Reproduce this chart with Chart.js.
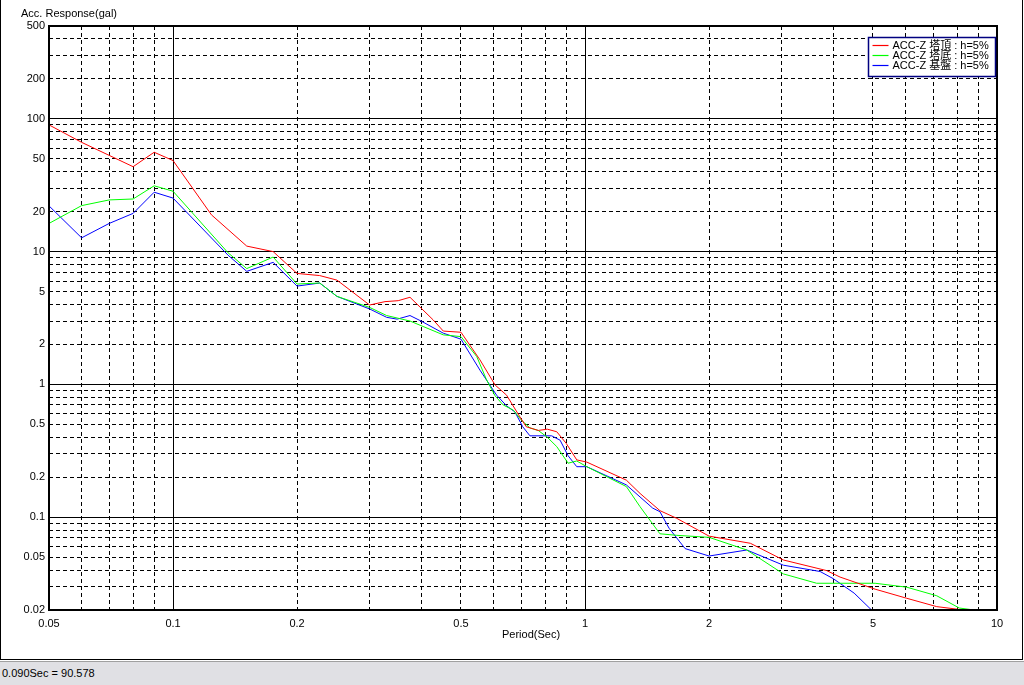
<!DOCTYPE html>
<html>
<head>
<meta charset="utf-8">
<script src="https://cdn.jsdelivr.net/npm/chart.js@4.4.0/dist/chart.umd.min.js"></script>
<style>
html,body{margin:0;padding:0;background:#fff;width:1024px;height:685px;overflow:hidden;}
#chart{position:absolute;left:0;top:0;}
#frame{position:absolute;left:0;top:0;width:1021px;height:659px;border-left:1px solid #000;border-right:1px solid #000;border-bottom:1px solid #000;pointer-events:none;}
#status{position:absolute;left:0;top:661px;width:1024px;height:24px;background:#e0e0e4;border-top:1px solid #a0a0a0;box-sizing:border-box;font:11px "Liberation Sans",Arial,sans-serif;color:#000;padding-left:2px;line-height:23px;}
</style>
</head>
<body>
<canvas id="chart" width="1024" height="660"></canvas>
<div id="frame"></div>
<div id="status">0.090Sec = 90.578</div>
<script>
// ---- data (period in sec, response in gal) ----
const seriesNames = ['ACC-Z 塔頂 : h=5%', 'ACC-Z 塔底 : h=5%', 'ACC-Z 基盤 : h=5%'];
const seriesColors = ['#ff0000', '#00ff00', '#0000ff'];

const topPeriods = [0.05,0.06,0.08,0.09,0.10,0.124,0.151,0.175,0.20,0.227,0.25,0.30,0.327,0.352,0.376,0.428,0.453,0.50,0.556,0.605,0.645,0.69,0.72,0.77,0.81,0.854,0.90,0.955,1.01,1.26,1.36,1.52,1.67,2.0,2.52,3.03,3.86,4.16,5.06,6.04,7.14,8.1,8.8];
const topValues  = [90,66.5,43.6,56,48.5,18.9,11.0,10.0,6.85,6.6,6.1,3.96,4.2,4.27,4.53,3.06,2.52,2.47,1.53,0.99,0.83,0.59,0.48,0.45,0.46,0.44,0.36,0.27,0.26,0.19,0.151,0.112,0.098,0.072,0.0636,0.0476,0.0396,0.0354,0.0287,0.0245,0.0212,0.0202,0.020];

const basePeriods = [0.05,0.06,0.07,0.08,0.09,0.10,0.136,0.151,0.175,0.20,0.227,0.25,0.30,0.33,0.376,0.453,0.50,0.546,0.577,0.605,0.633,0.67,0.70,0.735,0.77,0.81,0.854,0.91,0.955,1.01,1.26,1.36,1.52,1.67,2.0,2.47,3.03,3.65,5.06,6.04,7.14,8.1,8.8];
const baseValues  = [16.3,22.2,24.5,24.9,31.3,28.5,9.8,7.45,9.1,5.7,5.8,4.6,3.8,3.3,3.0,2.36,2.29,1.62,1.08,0.82,0.70,0.64,0.54,0.47,0.45,0.40,0.34,0.255,0.265,0.24,0.17,0.12,0.075,0.073,0.0705,0.0566,0.0374,0.0318,0.0318,0.0297,0.0256,0.0207,0.020];

const groundPeriods = [0.05,0.06,0.07,0.08,0.09,0.10,0.136,0.151,0.175,0.20,0.227,0.25,0.30,0.33,0.35,0.376,0.40,0.453,0.50,0.556,0.61,0.645,0.676,0.706,0.735,0.83,0.87,0.91,0.955,1.01,1.26,1.46,1.52,1.6,1.75,2.0,2.47,3.03,3.72,4.0,4.5,4.96];
const groundValues  = [22.1,12.7,16.3,19.4,28.0,25.3,9.4,7.1,8.3,5.5,5.8,4.6,3.7,3.2,3.1,3.3,3.0,2.43,2.19,1.28,0.83,0.69,0.62,0.48,0.41,0.41,0.38,0.29,0.24,0.24,0.175,0.117,0.11,0.0825,0.058,0.051,0.0566,0.0435,0.039,0.0345,0.0268,0.020];

// ---- axes ----
const xMin = 0.05, xMax = 10, yMin = 0.02, yMax = 500;
const xTickLabels = [0.05,0.1,0.2,0.5,1,2,5,10];
const yTickLabels = [0.02,0.05,0.1,0.2,0.5,1,2,5,10,20,50,100,200,500];
const xMajorLines = [0.1,1,10];
const yMajorLines = [0.1,1,10,100];

function logSteps(min, max) {
  const out = [];
  for (let e = -3; e <= 3; e++) {
    for (let m = 1; m <= 9; m++) {
      const v = +(m * Math.pow(10, e)).toPrecision(6);
      if (v >= min * 0.999999 && v <= max * 1.000001) out.push(v);
    }
  }
  return out;
}
const xMinorLines = logSteps(xMin, xMax);
const yMinorLines = logSteps(yMin, yMax);

function hasVal(list, v) { return list.some(l => Math.abs(l - v) / l < 1e-6); }
function pts(px, py) { return px.map((p, i) => ({x: p, y: py[i]})); }

const FONT = '"Liberation Sans", Arial, "Noto Sans CJK JP", sans-serif';

const decor = {
  id: 'decor',
  afterDatasetsDraw(chart) {
    const {ctx, chartArea: a} = chart;
    ctx.save();
    // plot frame
    ctx.setLineDash([]);
    ctx.strokeStyle = '#000';
    ctx.lineWidth = 2;
    ctx.strokeRect(a.left, a.top, a.right - a.left, a.bottom - a.top);
    // legend box
    const bx = a.right - 128.5, by = a.top + 11.5, bw = 127, bh = 39;
    ctx.fillStyle = '#fff';
    ctx.fillRect(bx, by, bw, bh);
    ctx.strokeStyle = '#000080';
    ctx.lineWidth = 1.5;
    ctx.strokeRect(bx, by, bw, bh);
    ctx.font = '11px ' + FONT;
    ctx.textBaseline = 'middle';
    ctx.textAlign = 'left';
    seriesNames.forEach((name, i) => {
      const yy = Math.round(by + 7 + i * 10) + 0.5;
      ctx.strokeStyle = seriesColors[i];
      ctx.lineWidth = 1.2;
      ctx.beginPath();
      ctx.moveTo(bx + 4, yy);
      ctx.lineTo(bx + 20, yy);
      ctx.stroke();
      ctx.fillStyle = '#000';
      ctx.fillText(name, bx + 24, yy + 0.5);
    });
    ctx.restore();
  },
  afterDraw(chart) {
    const {ctx, chartArea: a} = chart;
    ctx.save();
    ctx.fillStyle = '#000';
    ctx.font = '11px ' + FONT;
    ctx.textBaseline = 'middle';
    ctx.textAlign = 'left';
    ctx.fillText('Acc. Response(gal)', 21, 14);
    ctx.textAlign = 'center';
    ctx.fillText('Period(Sec)', (a.left + a.right) / 2 + 8, 635);
    ctx.restore();
  }
};

const tickFont = {family: FONT, size: 11};

new Chart(document.getElementById('chart'), {
  type: 'scatter',
  data: {
    datasets: seriesNames.map((name, i) => ({
      label: name,
      data: [pts(topPeriods, topValues), pts(basePeriods, baseValues), pts(groundPeriods, groundValues)][i],
      borderColor: seriesColors[i], backgroundColor: seriesColors[i],
      showLine: true, borderWidth: 1, pointRadius: 0, pointHoverRadius: 0, tension: 0, fill: false
    }))
  },
  options: {
    responsive: false,
    animation: false,
    devicePixelRatio: 1,
    events: [],
    layout: {padding: {left: 0, top: 26, right: 27, bottom: 0}},
    plugins: {legend: {display: false}, tooltip: {enabled: false}, title: {display: false}},
    scales: {
      x: {
        type: 'logarithmic', position: 'bottom', min: xMin, max: xMax,
        afterBuildTicks: s => { s.ticks = xMinorLines.map(v => ({value: v})); },
        afterFit: s => { s.height = 50; },
        grid: {color: '#000', lineWidth: 1, drawTicks: false},
        border: {display: false, dash: [4, 3]},
        ticks: {autoSkip: false, maxRotation: 0, minRotation: 0, padding: 7, color: '#000', font: tickFont,
          callback: v => hasVal(xTickLabels, v) ? String(v) : ''}
      },
      x2: {
        type: 'logarithmic', position: 'bottom', min: xMin, max: xMax,
        afterBuildTicks: s => { s.ticks = xMajorLines.map(v => ({value: v})); },
        afterFit: s => { s.height = 0; },
        grid: {color: '#000', lineWidth: 1, drawTicks: false},
        border: {display: false},
        ticks: {display: false}
      },
      y: {
        type: 'logarithmic', position: 'left', min: yMin, max: yMax,
        afterBuildTicks: s => { s.ticks = yMinorLines.map(v => ({value: v})); },
        afterFit: s => { s.width = 49; },
        grid: {color: '#000', lineWidth: 1, drawTicks: false},
        border: {display: false, dash: [4, 3]},
        ticks: {autoSkip: false, padding: 4, color: '#000', font: tickFont,
          callback: v => hasVal(yTickLabels, v) ? String(v) : ''}
      },
      y2: {
        type: 'logarithmic', position: 'left', min: yMin, max: yMax,
        afterBuildTicks: s => { s.ticks = yMajorLines.map(v => ({value: v})); },
        afterFit: s => { s.width = 0; },
        grid: {color: '#000', lineWidth: 1, drawTicks: false},
        border: {display: false},
        ticks: {display: false}
      }
    }
  },
  plugins: [decor]
});
</script>
</body>
</html>
